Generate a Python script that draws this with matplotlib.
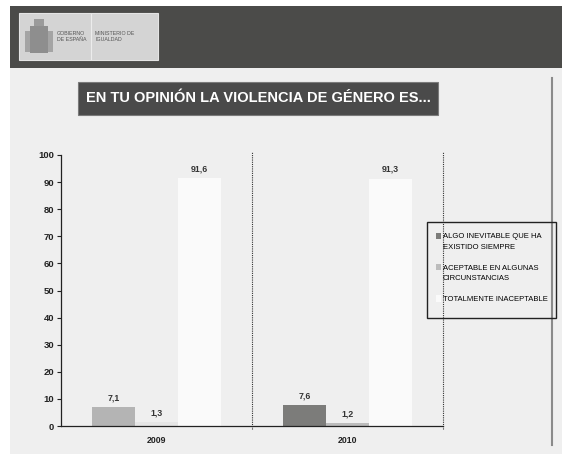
import numpy as np
import matplotlib.pyplot as plt
from matplotlib.patches import Rectangle, Patch

# Data
years = ['2009', '2010']
series_names = [['ALGO INEVITABLE QUE HA', 'EXISTIDO SIEMPRE'],
                ['ACEPTABLE EN ALGUNAS', 'CIRCUNSTANCIAS'],
                ['TOTALMENTE INACEPTABLE']]
inevitable = [7.1, 7.6]
aceptable = [1.3, 1.2]
inaceptable = [91.6, 91.3]
labels_inevitable = ['7,1', '7,6']
labels_aceptable = ['1,3', '1,2']
labels_inaceptable = ['91,6', '91,3']
title = 'EN TU OPINIÓN LA VIOLENCIA DE GÉNERO ES...'

W, H = 562, 454
plt.rcParams['font.family'] = ['Liberation Sans', 'DejaVu Sans']

fig = plt.figure(figsize=(W / 100, H / 100), dpi=100)
fig.patch.set_facecolor('white')


def px_rect(x0, y0, x1, y1, zorder=-5, **kw):
    # rectangle in pixel coords (origin top-left)
    r = Rectangle((x0 / W, 1 - y1 / H), (x1 - x0) / W, (y1 - y0) / H,
                  transform=fig.transFigure, zorder=zorder, **kw)
    fig.patches.append(r)
    return r


# page background and header
px_rect(10, 68, 562, 454, facecolor='#efefef', edgecolor='none', zorder=-10)
px_rect(10, 6, 562, 68, facecolor='#4b4b49', edgecolor='none')
px_rect(19, 13, 158, 60, facecolor='#d4d4d4', edgecolor='#e4e4e4', lw=0.8)
fig.add_artist(plt.Line2D([91 / W] * 2, [1 - 14 / H, 1 - 59 / H], transform=fig.transFigure,
                          color='#ececec', lw=0.8))
# coat of arms placeholder
px_rect(30, 26, 48, 53, facecolor='#8e8e8e', edgecolor='none', zorder=-4)
px_rect(34, 19, 44, 26, facecolor='#9a9a9a', edgecolor='none', zorder=-4)
px_rect(25, 31, 30, 52, facecolor='#a4a4a4', edgecolor='none', zorder=-4)
px_rect(48, 31, 53, 52, facecolor='#a4a4a4', edgecolor='none', zorder=-4)
fig.text(57 / W, 1 - 36.5 / H, 'GOBIERNO\nDE ESPAÑA', fontsize=3.8, color='#555555',
         va='center', ha='left', linespacing=1.1)
fig.text(95 / W, 1 - 36.5 / H, 'MINISTERIO DE\nIGUALDAD', fontsize=3.8, color='#555555',
         va='center', ha='left', linespacing=1.1)

# right vertical rule
fig.add_artist(plt.Line2D([552 / W] * 2, [1 - 78 / H, 1 - 445 / H], transform=fig.transFigure,
                          color='#8a8a8a', lw=1.5))

# title box
px_rect(78, 82, 438, 115, facecolor='#4a4a4a', edgecolor='#7a7a7a', lw=0.8)
fig.text(258.5 / W, 1 - 98.5 / H, title, fontsize=10.5, fontweight='bold', color='white',
         ha='center', va='center')

# chart
ax = fig.add_axes([61 / W, 1 - 426 / H, (443 - 61) / W, (426 - 155) / H])
ax.set_facecolor('none')
x = np.arange(len(years)) + 0.5
bw = 0.225

col_inev = ['#b4b4b4', '#7c7c7a']
col_acep = ['#e6e6e6', '#bcbcbc']
col_inac = ['#fafafa', '#fafafa']

ax.bar(x - bw, inevitable, bw, color=col_inev)
ax.bar(x, aceptable, bw, color=col_acep)
ax.bar(x + bw, inaceptable, bw, color=col_inac)

for xs, vals, labs in [(x - bw, inevitable, labels_inevitable),
                       (x, aceptable, labels_aceptable),
                       (x + bw, inaceptable, labels_inaceptable)]:
    for xi, v, lab in zip(xs, vals, labs):
        ax.text(xi, v + 3.4, lab, ha='center', va='center', fontsize=6.3,
                fontweight='bold', color='#333333')

ax.set_xlim(0, 2)
ax.set_ylim(0, 100)
ax.set_yticks(np.arange(0, 101, 10))
ax.set_xticks(x)
ax.set_xticklabels(years)
ax.tick_params(axis='y', labelsize=6.8, length=3, width=0.8, color='#222222', pad=2)
ax.tick_params(axis='x', labelsize=6.3, length=0, pad=7)
for lab in ax.get_yticklabels() + ax.get_xticklabels():
    lab.set_fontweight('bold')
    lab.set_color('#222222')
for s in ['top', 'right']:
    ax.spines[s].set_visible(False)
ax.spines['left'].set_color('#222222')
ax.spines['bottom'].set_color('#222222')
ax.spines['left'].set_linewidth(0.9)
ax.spines['bottom'].set_linewidth(0.9)

# category separators
for xb in [1, 2]:
    ax.plot([xb, xb], [-1.2, 101], color='#333333', lw=0.8, ls=(0, (1, 1)),
            clip_on=False)

# legend: one row per text line, handle only on the first line of each entry
px_rect(427, 222, 556, 318, facecolor='none', edgecolor='#222222', lw=1.0, zorder=3)
blank = Patch(facecolor='none', edgecolor='none')
handles, texts = [], []
for i, (c, lines) in enumerate(zip(['#7c7c7a', '#bcbcbc', '#fafafa'], series_names)):
    if i > 0:
        handles.append(blank)
        texts.append(' ')
    for j, line in enumerate(lines):
        handles.append(Patch(facecolor=c) if j == 0 else blank)
        texts.append(line)
leg = fig.legend(handles, texts, loc='upper left',
                 bbox_to_anchor=(434 / W, 1 - 231 / H), frameon=False, fontsize=5.5,
                 handlelength=0.75, handleheight=0.95, handletextpad=0.2, labelspacing=0.33,
                 borderaxespad=0, borderpad=0.2)

fig.savefig('out.png', dpi=100)
